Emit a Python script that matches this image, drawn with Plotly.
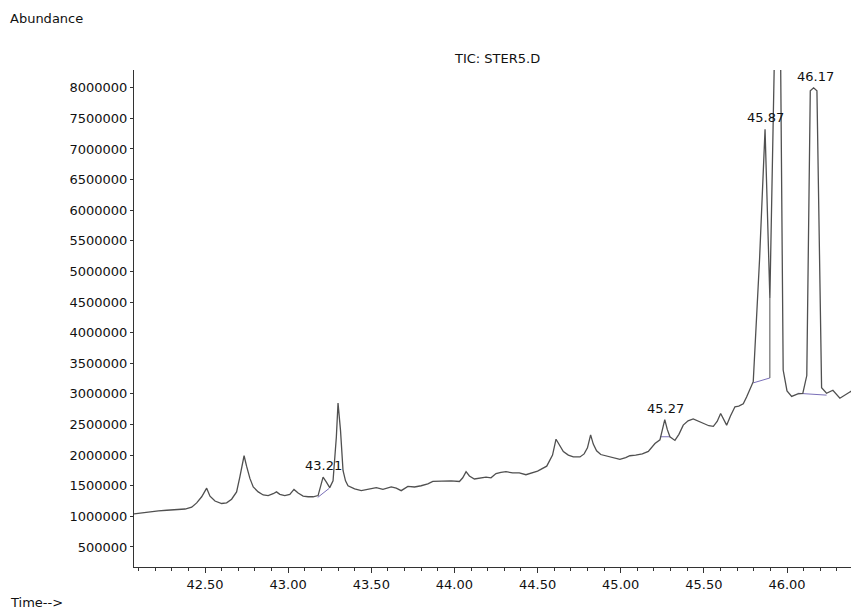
#!/usr/bin/env python
# TIC chromatogram STER5.D, 42.1 - 46.4 min

import plotly.graph_objects as go

#============================
# retention time (min) and abundance (counts)
rt = [42.073, 42.12, 42.17, 42.22, 42.27, 42.33, 42.38, 42.42, 42.45, 42.48,
      42.51, 42.53, 42.56, 42.60, 42.63, 42.66, 42.69, 42.71, 42.735, 42.75,
      42.77, 42.79, 42.82, 42.85, 42.88, 42.91, 42.93, 42.95, 42.98, 43.01,
      43.035, 43.06, 43.09, 43.12, 43.15, 43.18, 43.195, 43.21, 43.23, 43.25,
      43.27, 43.29, 43.30, 43.315, 43.33, 43.345, 43.36, 43.40, 43.44, 43.48,
      43.53, 43.57, 43.62, 43.65, 43.68, 43.72, 43.76, 43.80, 43.84, 43.87,
      43.92, 43.98, 44.03, 44.05, 44.07, 44.09, 44.12, 44.16, 44.19, 44.22,
      44.25, 44.28, 44.31, 44.35, 44.39, 44.43, 44.46, 44.50, 44.555, 44.59,
      44.611, 44.635, 44.655, 44.685, 44.715, 44.755, 44.78, 44.80, 44.819, 44.835,
      44.855, 44.88, 44.905, 44.94, 44.97, 44.995, 45.03, 45.055, 45.09, 45.13,
      45.166, 45.19, 45.206, 45.236, 45.25, 45.265, 45.28, 45.296, 45.326, 45.35,
      45.376, 45.405, 45.436, 45.465, 45.496, 45.53, 45.557, 45.58, 45.601, 45.62,
      45.637, 45.66, 45.687, 45.71, 45.737, 45.757, 45.777, 45.797, 45.835, 45.868,
      45.897, 45.93, 45.945, 45.96, 45.977, 46.00, 46.028, 46.065, 46.095,
      46.119, 46.14, 46.16, 46.18, 46.208, 46.238, 46.276, 46.318, 46.378, 46.433]

abund = [1.04, 1.06, 1.08, 1.09, 1.10, 1.11, 1.12, 1.15, 1.22, 1.32,
         1.46, 1.33, 1.25, 1.21, 1.22, 1.28, 1.40, 1.65, 1.99, 1.82,
         1.62, 1.48, 1.40, 1.35, 1.34, 1.37, 1.40, 1.36, 1.34, 1.36,
         1.44, 1.38, 1.33, 1.32, 1.32, 1.34, 1.50, 1.64, 1.56, 1.47,
         1.58, 2.30, 2.85, 2.40, 1.75, 1.58, 1.50, 1.45, 1.42, 1.44,
         1.47, 1.44, 1.48, 1.46, 1.42, 1.49, 1.48, 1.50, 1.53, 1.57,
         1.58, 1.58, 1.57, 1.63, 1.73, 1.66, 1.61, 1.63, 1.64, 1.63,
         1.70, 1.72, 1.73, 1.71, 1.71, 1.68, 1.71, 1.74, 1.82, 2.00,
         2.26, 2.14, 2.06, 2.00, 1.97, 1.97, 2.02, 2.12, 2.33, 2.18,
         2.07, 2.01, 1.99, 1.97, 1.94, 1.93, 1.96, 1.99, 2.00, 2.02,
         2.06, 2.13, 2.19, 2.25, 2.42, 2.58, 2.42, 2.30, 2.24, 2.34,
         2.49, 2.56, 2.59, 2.56, 2.52, 2.48, 2.47, 2.55, 2.68, 2.58,
         2.49, 2.64, 2.79, 2.80, 2.84, 2.95, 3.09, 3.20, 5.20, 7.32,
         4.56, 9.00, 11.50, 9.00, 3.39, 3.05, 2.96, 3.00, 3.01,
         3.30, 7.95, 8.00, 7.95, 3.10, 3.01, 3.06, 2.93, 3.03, 3.12]
abund = [a * 1e6 for a in abund]

# integration baselines (purple) and drop line
base_rt = [43.178, 43.248, None, 45.236, 45.296, None, 45.797, 45.897, None, 46.065, 46.238]
base_ab = [1.31e6, 1.46e6, None, 2.30e6, 2.30e6, None, 3.18e6, 3.26e6, None, 3.01e6, 2.98e6]
drop_rt = [45.897, 45.897]
drop_ab = [3.26e6, 4.56e6]

# labelled peaks
peak_rt = [43.21, 45.27, 45.87, 46.17]
peak_ab = [1.64e6, 2.58e6, 7.32e6, 8.00e6]
peak_txt = ["43.21", "45.27", "45.87", "46.17"]

xticks = [42.5, 43.0, 43.5, 44.0, 44.5, 45.0, 45.5, 46.0]
yticks = list(range(500000, 8000001, 500000))
#============================

line_col = '#505050'
txt_col = '#111111'
fnt = "DejaVu Sans"
fsize = 13

fig = go.Figure()

fig.add_trace(go.Scatter(x=base_rt, y=base_ab, mode='lines',
                         line=dict(color='#7a6fb8', width=1), hoverinfo='skip'))
fig.add_trace(go.Scatter(x=drop_rt, y=drop_ab, mode='lines',
                         line=dict(color=line_col, width=1), hoverinfo='skip'))
fig.add_trace(go.Scatter(x=rt, y=abund, mode='lines', name="TIC",
                         line=dict(color=line_col, width=1.3)))

for x0, y0, t in zip(peak_rt, peak_ab, peak_txt):
    fig.add_annotation(x=x0, y=y0, text=t, showarrow=False,
                       yanchor='bottom', xanchor='center', yshift=2,
                       font=dict(family=fnt, size=fsize, color=txt_col))

fig.update_xaxes(range=[42.073, 46.433], tickvals=xticks,
                 ticktext=[f"{v:.2f}" for v in xticks],
                 ticks='outside', ticklen=5, tickcolor='#333',
                 minor=dict(dtick=0.1, tick0=42.0, ticks='outside', ticklen=3, tickcolor='#333'),
                 showline=True, linecolor='#333', linewidth=1,
                 showgrid=False, zeroline=False,
                 tickfont=dict(family=fnt, size=fsize, color=txt_col))
fig.update_yaxes(range=[173000, 8290000], tickvals=yticks,
                 ticktext=[str(v) for v in yticks],
                 ticks='outside', ticklen=3, tickcolor='#333',
                 showline=True, linecolor='#333', linewidth=1,
                 showgrid=False, zeroline=False,
                 tickfont=dict(family=fnt, size=fsize, color=txt_col))

# title and axis captions in the ChemStation style
fig.add_annotation(xref='paper', yref='paper', x=0.5, y=1.0, yshift=2,
                   text="TIC: STER5.D", showarrow=False,
                   xanchor='center', yanchor='bottom',
                   font=dict(family=fnt, size=fsize, color=txt_col))
fig.add_annotation(xref='paper', yref='paper', x=-0.174, y=1.1046,
                   text="Abundance", showarrow=False,
                   xanchor='left', yanchor='middle',
                   font=dict(family=fnt, size=fsize, color=txt_col))
fig.add_annotation(xref='paper', yref='paper', x=-0.174, y=-0.0724,
                   text="Time-->", showarrow=False,
                   xanchor='left', yanchor='middle',
                   font=dict(family=fnt, size=fsize, color=txt_col))

# page body has an 8 px margin, so the figure is 8 px smaller each way
fig.update_layout(
    autosize=False, width=851, height=603,
    margin=dict(l=126, r=0, t=62, b=44),
    paper_bgcolor='white', plot_bgcolor='white',
    showlegend=False,
    font_family=fnt, font_color=txt_col)

fig.write_html("out.html")
